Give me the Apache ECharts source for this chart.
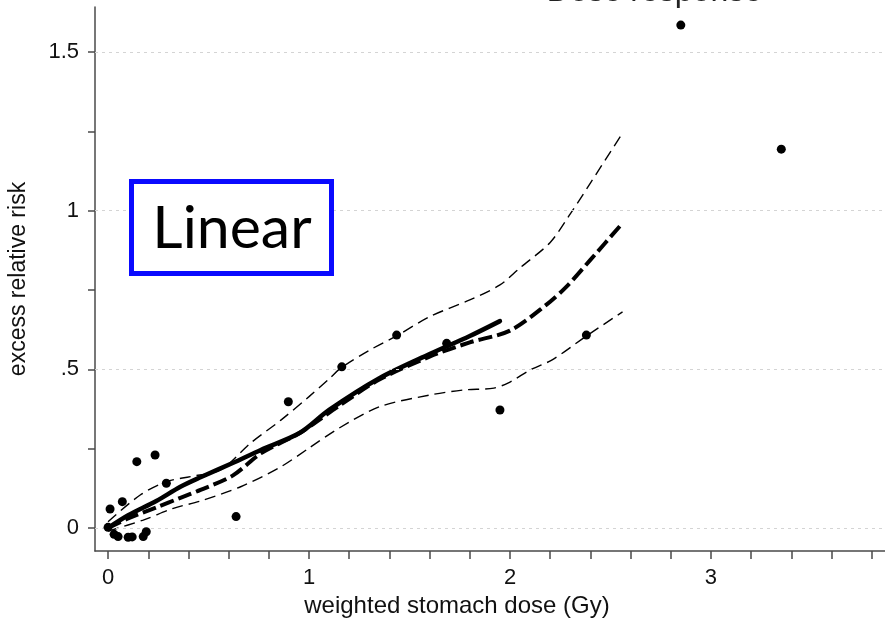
<!DOCTYPE html>
<html>
<head>
<meta charset="utf-8">
<title>Excess relative risk by weighted stomach dose</title>
<script src="https://cdn.jsdelivr.net/npm/echarts@6/dist/echarts.min.js"></script>
<style>
  html, body { margin: 0; padding: 0; background: #fff; }
  #chart { width: 885px; height: 621px; }
</style>
</head>
<body>
<div id="chart"></div>
<script>
// Observed excess relative risk by dose group
const pointDose = [0.0, 0.01, 0.03, 0.05, 0.071, 0.10, 0.12, 0.143, 0.175, 0.19, 0.234, 0.29, 0.637, 0.897, 1.163, 1.436, 1.685, 1.95, 2.38, 2.85, 3.35];
const pointErr  = [0.002, 0.06, -0.02, -0.027, 0.083, -0.029, -0.028, 0.209, -0.027, -0.012, 0.230, 0.141, 0.036, 0.398, 0.508, 0.608, 0.582, 0.372, 0.608, 1.585, 1.194];

// Smoothed dose response (solid)
const smoothDose = [0, 0.1, 0.24, 0.36, 0.46, 0.62, 0.76, 0.955, 1.1, 1.35, 1.6, 1.8, 1.95];
const smoothErr  = [0, 0.04, 0.085, 0.13, 0.16, 0.205, 0.246, 0.30, 0.372, 0.472, 0.548, 0.605, 0.652];

// Fitted curve (long dashes)
const fitDose = [0, 0.1, 0.24, 0.36, 0.46, 0.62, 0.76, 0.955, 1.15, 1.35, 1.6, 1.8, 2.0, 2.18, 2.28, 2.4, 2.56];
const fitErr  = [0, 0.03, 0.065, 0.095, 0.12, 0.165, 0.235, 0.30, 0.385, 0.468, 0.54, 0.585, 0.622, 0.703, 0.76, 0.845, 0.961];

// Upper and lower confidence bounds (short dashes)
const upperDose = [0, 0.16, 0.29, 0.41, 0.56, 0.71, 0.86, 1.0, 1.1, 1.16, 1.3, 1.44, 1.6, 1.8, 1.95, 2.05, 2.2, 2.3, 2.4, 2.56];
const upperErr  = [0.02, 0.104, 0.146, 0.162, 0.183, 0.268, 0.34, 0.414, 0.47, 0.505, 0.56, 0.607, 0.666, 0.719, 0.766, 0.82, 0.90, 0.99, 1.087, 1.245];
const lowerDose = [0, 0.175, 0.325, 0.46, 0.66, 0.86, 1.0, 1.15, 1.35, 1.6, 1.77, 1.92, 2.0, 2.1, 2.21, 2.38, 2.56];
const lowerErr  = [-0.01, 0.025, 0.062, 0.085, 0.13, 0.193, 0.252, 0.315, 0.382, 0.419, 0.435, 0.441, 0.46, 0.498, 0.53, 0.605, 0.681];

// Axis ticks and labels
const xTicks = [0, 0.2, 0.4, 0.6, 0.8, 1, 1.2, 1.4, 1.6, 1.8, 2, 2.2, 2.4, 2.6, 2.8, 3, 3.2, 3.4, 3.6, 3.8];
const xLabels = [0, 1, 2, 3];
const yTicks = [0, 0.25, 0.5, 0.75, 1, 1.25, 1.5];
const yLabels = [0, 0.5, 1, 1.5];
const yLabelText = { 0: '0', 0.5: '.5', 1: '1', 1.5: '1.5' };

const zip = (xs, ys) => xs.map((x, i) => [x, ys[i]]);

const axisColor = '#4a4a4a';
const font = 'Liberation Sans, Arial, Helvetica, sans-serif';

const chart = echarts.init(document.getElementById('chart'), null, { renderer: 'canvas' });

chart.setOption({
  backgroundColor: '#ffffff',
  animation: false,
  grid: { left: 95, right: 0, top: 7, bottom: 70, containLabel: false, outerBoundsMode: 'none' },
  xAxis: {
    type: 'value',
    min: -0.065,
    max: 3.866,
    axisLine: { show: true, onZero: false, lineStyle: { color: axisColor, width: 1.5 } },
    axisTick: { show: true, customValues: xTicks, length: 8, lineStyle: { color: axisColor, width: 1.5 } },
    axisLabel: {
      customValues: xLabels,
      formatter: v => String(v),
      fontSize: 22, color: '#111', fontFamily: font, margin: 16
    },
    splitLine: { show: false },
    name: 'weighted stomach dose (Gy)',
    nameLocation: 'middle',
    nameGap: 41,
    // the title sits a little left of the axis centre
    nameTextStyle: { fontSize: 24, color: '#111', fontFamily: font, padding: [0, 66, 0, 0] }
  },
  yAxis: {
    type: 'value',
    min: -0.0725,
    max: 1.642,
    axisLine: { show: true, onZero: false, lineStyle: { color: axisColor, width: 1.5 } },
    axisTick: { show: true, customValues: yTicks, length: 7, lineStyle: { color: axisColor, width: 1.5 } },
    axisLabel: {
      customValues: yLabels,
      formatter: v => yLabelText[v] !== undefined ? yLabelText[v] : String(v),
      fontSize: 22, color: '#111', fontFamily: font, margin: 16
    },
    splitLine: { show: false },
    name: 'excess relative risk',
    nameLocation: 'middle',
    nameRotate: 90,
    nameGap: 65,
    nameTextStyle: { fontSize: 23, color: '#111', fontFamily: font }
  },
  series: [
    {
      name: 'observed',
      type: 'scatter',
      data: zip(pointDose, pointErr),
      symbol: 'circle',
      symbolSize: 9,
      itemStyle: { color: '#000', opacity: 1 },
      z: 5,
      markLine: {
        silent: true,
        symbol: 'none',
        label: { show: false },
        lineStyle: { color: '#d4d4d4', type: [3, 4], width: 1 },
        data: yLabels.map(v => ({ yAxis: v }))
      }
    },
    {
      name: 'upper bound',
      type: 'line',
      data: zip(upperDose, upperErr),
      smooth: 0.3,
      showSymbol: false,
      lineStyle: { color: '#000', width: 1.4, type: [11, 6] },
      z: 3
    },
    {
      name: 'lower bound',
      type: 'line',
      data: zip(lowerDose, lowerErr),
      smooth: 0.3,
      showSymbol: false,
      lineStyle: { color: '#000', width: 1.4, type: [11, 6] },
      z: 3
    },
    {
      name: 'fitted',
      type: 'line',
      data: zip(fitDose, fitErr),
      smooth: 0.3,
      showSymbol: false,
      lineStyle: { color: '#000', width: 4, type: [14, 5] },
      z: 4
    },
    {
      name: 'smoothed',
      type: 'line',
      data: zip(smoothDose, smoothErr),
      smooth: 0.3,
      showSymbol: false,
      lineStyle: { color: '#000', width: 4.5, cap: 'round' },
      z: 4
    }
  ],
  graphic: [
    {
      type: 'text',
      x: 762,
      y: -8,
      style: {
        text: 'Dose response',
        fontSize: 32,
        fontFamily: font,
        fill: '#222',
        align: 'right',
        verticalAlign: 'middle'
      },
      z: 10
    },
    {
      type: 'rect',
      shape: { x: 131.5, y: 181.5, width: 200, height: 92 },
      style: { fill: '#ffffff', stroke: '#0a0aff', lineWidth: 5 },
      z: 20
    },
    {
      type: 'text',
      x: 232,
      y: 229,
      style: {
        text: 'Linear',
        fontSize: 59,
        fontFamily: 'Lato, Carlito, sans-serif',
        fill: '#000',
        align: 'center',
        verticalAlign: 'middle'
      },
      z: 21
    }
  ]
});
</script>
</body>
</html>
